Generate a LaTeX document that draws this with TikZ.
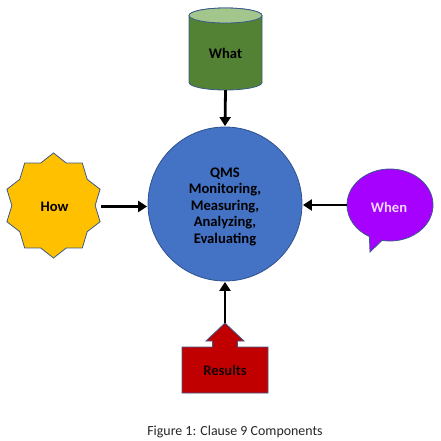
\documentclass[tikz,border=0pt]{standalone}
\usepackage{fontspec}
\setmainfont{Carlito}
\usetikzlibrary{arrows.meta,shapes.geometric,shapes.callouts}
\definecolor{outl}{HTML}{3B5A8A}
\definecolor{cylbody}{HTML}{548235}
\definecolor{cyltop}{HTML}{A3C68C}
\definecolor{starfill}{HTML}{FFC000}
\definecolor{qmsfill}{HTML}{4472C4}
\definecolor{qmsline}{HTML}{2F528F}
\definecolor{whenfill}{HTML}{A600FF}
\definecolor{whentext}{HTML}{F3D6FF}
\definecolor{resfill}{HTML}{C00000}
\tikzset{
  shapeline/.style={draw=outl, line width=0.8pt},
  lbl/.style={font=\bfseries\fontsize{14.6}{16.5}\selectfont, text=black, align=center, inner sep=0pt},
  conn/.style={line width=2.8pt, -{Triangle[length=9pt,width=11pt]}, shorten >=0.5pt},
}
\begin{document}
\begin{tikzpicture}[x=1pt,y=-1pt]
\useasboundingbox (0,0) rectangle (440,441);
% central circle
\node[circle, draw=qmsline, line width=0.8pt, fill=qmsfill, minimum size=154pt, inner sep=0pt] (qms) at (225,204) {};
\node[lbl] (qmstext) at (225,206.5) {QMS\\Monitoring,\\Measuring,\\Analyzing,\\Evaluating};
% What cylinder
\draw[shapeline, fill=cylbody] (189,15.5) -- (189,82.5) arc[start angle=180, end angle=0, x radius=36.5, y radius=7.5] -- (262,15.5) arc[start angle=0, end angle=-180, x radius=36.5, y radius=7.5] -- cycle;
\draw[shapeline, fill=cyltop] (225.5,15.5) ellipse [x radius=36.5, y radius=7.5];
\node[lbl, minimum width=73pt, minimum height=74pt] (what) at (225.5,53) {What};
% How star
\draw[shapeline, fill=starfill, shift={(53.5,205.5)}] (90:49 and 52.5)
  \foreach \a in {0,36,...,324} { -- ({108+\a}:41.65 and 44.6) -- ({126+\a}:49 and 52.5) } -- cycle;
\node[lbl, minimum width=93pt, minimum height=40pt] (how) at (54.5,206.5) {How};
% When callout
\node[ellipse callout, draw=outl, line width=0.8pt, fill=whenfill, minimum width=86pt, minimum height=72pt, inner sep=0pt,
  callout absolute pointer={(370,252)}, callout pointer arc=18] (when) at (390,205) {};
\node[lbl, text=whentext] (whentxt) at (389,207) {When};
% Results up-arrow callout
\draw[shapeline, fill=resfill] (182,347) -- (212.5,347) -- (212.5,341) -- (206,341) -- (225,323) -- (244,341) -- (237.5,341) -- (237.5,347) -- (268,347) -- (268,393) -- (182,393) -- cycle;
\coordinate (restip) at (225,323);
\node[lbl, text=black!90!red] (results) at (225,370) {Results};
% connectors
\draw[conn] (what.south) -- (qms.north);
\draw[conn] (how.east) -- (how.east -| qms.west);
\draw[conn] (when.west) -- (when.west -| qms.east);
\draw[conn] (restip) -- (qms.south);
% caption
\node[font=\fontsize{13.9}{15}\selectfont, text=black!85, inner sep=0pt] (caption) at (235,432) {Figure 1: Clause 9 Components};
\end{tikzpicture}
\end{document}
